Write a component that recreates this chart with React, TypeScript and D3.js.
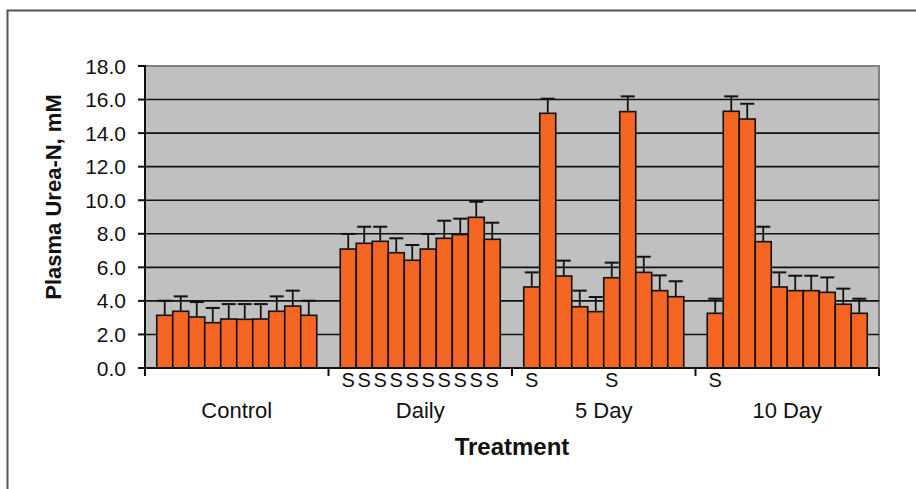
import React from 'react';
import * as d3 from 'd3';

// Plasma urea-N by treatment (10 animals / group), upper SE bars
const categories = ['Control', 'Daily', '5 Day', '10 Day'];

const controlMeans = [3.14, 3.38, 3.04, 2.7, 2.92, 2.9, 2.92, 3.38, 3.69, 3.14];
const controlErr = [0.87, 0.89, 0.89, 0.88, 0.89, 0.91, 0.89, 0.89, 0.92, 0.87];

const dailyMeans = [7.09, 7.43, 7.55, 6.87, 6.42, 7.09, 7.73, 7.95, 8.98, 7.67];
const dailyErr = [0.9, 0.99, 0.87, 0.86, 0.91, 0.9, 1.05, 0.95, 0.93, 0.99];

const fiveDayMeans = [4.83, 15.18, 5.48, 3.65, 3.36, 5.38, 15.28, 5.7, 4.61, 4.25];
const fiveDayErr = [0.87, 0.87, 0.92, 0.96, 0.87, 0.9, 0.91, 0.93, 0.91, 0.92];

const tenDayMeans = [3.26, 15.3, 14.84, 7.53, 4.83, 4.61, 4.61, 4.51, 3.8, 3.26];
const tenDayErr = [0.87, 0.89, 0.91, 0.89, 0.87, 0.89, 0.89, 0.89, 0.93, 0.87];

// "S" markers printed under individual bars
const controlSig = ['', '', '', '', '', '', '', '', '', ''];
const dailySig = ['S', 'S', 'S', 'S', 'S', 'S', 'S', 'S', 'S', 'S'];
const fiveDaySig = ['S', '', '', '', '', 'S', '', '', '', ''];
const tenDaySig = ['S', '', '', '', '', '', '', '', '', ''];

const yTicks = [0, 2, 4, 6, 8, 10, 12, 14, 16, 18];

const groups = [
  { name: categories[0], means: controlMeans, err: controlErr, sig: controlSig },
  { name: categories[1], means: dailyMeans, err: dailyErr, sig: dailySig },
  { name: categories[2], means: fiveDayMeans, err: fiveDayErr, sig: fiveDaySig },
  { name: categories[3], means: tenDayMeans, err: tenDayErr, sig: tenDaySig },
];

const W = 916;
const H = 489;
const margin = { left: 145, top: 66, right: 37, bottom: 121 };
const font = '"Liberation Sans", Arial, sans-serif';

export default function App() {
  const x0 = d3.scaleBand<string>()
    .domain(categories)
    .range([margin.left, W - margin.right]);
  const bars = d3.range(10).map(String);
  const x1 = d3.scaleBand<string>()
    .domain(bars)
    .range([0, x0.bandwidth()])
    .paddingOuter(0.734);
  const y = d3.scaleLinear()
    .domain([0, 18])
    .range([H - margin.bottom, margin.top]);

  const left = margin.left;
  const right = W - margin.right;
  const bottom = y(0);
  const top = y(18);
  const capW = 14;

  return (
    <svg width={W} height={H} style={{ position: 'absolute', left: 0, top: 0, background: '#fff' }}>
      {/* outer frame, runs off the right/bottom edges */}
      <rect x={7.5} y={10.5} width={W + 20} height={H + 20} fill="#fff" stroke="#555" strokeWidth={2} />

      {/* plot area */}
      <rect x={left} y={top} width={right - left} height={bottom - top} fill="#c0c0c0" stroke="#808080" strokeWidth={2} />

      {yTicks.filter(t => t > 0 && t < 18).map(t => (
        <line key={t} x1={left} x2={right} y1={y(t)} y2={y(t)} stroke="#111" strokeWidth={1.6} />
      ))}

      {groups.map(g => (
        <g key={g.name} transform={`translate(${x0(g.name)},0)`}>
          {g.means.map((m, i) => {
            const bx = x1(String(i)) as number;
            const cx = bx + x1.bandwidth() / 2;
            const e = m + g.err[i];
            return (
              <g key={i}>
                <line x1={cx} x2={cx} y1={y(m)} y2={y(e)} stroke="#111" strokeWidth={1.8} />
                <line x1={cx - capW / 2} x2={cx + capW / 2} y1={y(e)} y2={y(e)} stroke="#111" strokeWidth={2} />
                <rect x={bx} y={y(m)} width={x1.bandwidth()} height={bottom - y(m)}
                  fill="#f46622" stroke="#111" strokeWidth={1.6} />
              </g>
            );
          })}
          {g.sig.map((s, i) => s ? (
            <text key={'s' + i} x={(x1(String(i)) as number) + x1.bandwidth() / 2} y={387}
              textAnchor="middle" fontFamily={font} fontSize={20} fill="#111">{s}</text>
          ) : null)}
          <text x={x0.bandwidth() / 2} y={418} textAnchor="middle" fontFamily={font} fontSize={22} fill="#111">
            {g.name}
          </text>
        </g>
      ))}

      {/* axes */}
      <line x1={left} x2={left} y1={top - 1} y2={bottom + 8} stroke="#111" strokeWidth={2} />
      <line x1={left} x2={right} y1={bottom} y2={bottom} stroke="#111" strokeWidth={2} />
      {categories.map(c => (
        <line key={c} x1={(x0(c) as number) + x0.bandwidth()} x2={(x0(c) as number) + x0.bandwidth()}
          y1={bottom} y2={bottom + 8} stroke="#111" strokeWidth={2} />
      ))}
      {yTicks.map(t => (
        <g key={'t' + t}>
          <line x1={left - 7} x2={left} y1={y(t)} y2={y(t)} stroke="#111" strokeWidth={2} />
          <text x={126} y={y(t)} dy="0.36em" textAnchor="end" fontFamily={font} fontSize={21} fill="#111">
            {t.toFixed(1)}
          </text>
        </g>
      ))}

      <text transform={`translate(61,197) rotate(-90)`} textAnchor="middle" fontFamily={font}
        fontSize={22} fontWeight="bold" fill="#111">Plasma Urea-N, mM</text>
      <text x={(left + right) / 2} y={455} textAnchor="middle" fontFamily={font}
        fontSize={24} fontWeight="bold" fill="#111">Treatment</text>
    </svg>
  );
}
